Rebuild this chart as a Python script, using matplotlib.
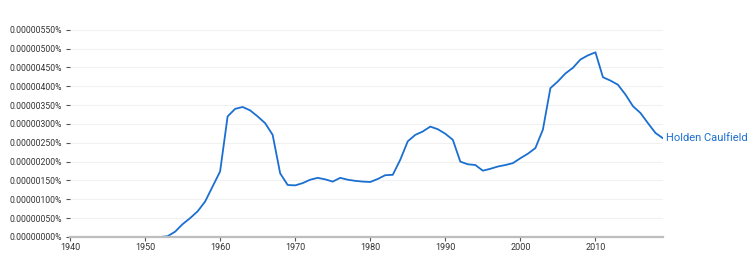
import matplotlib
matplotlib.use("Agg")
import matplotlib.pyplot as plt
from matplotlib.ticker import FuncFormatter

plt.rcParams['font.family'] = ['Roboto', 'DejaVu Sans']

# yearly frequency, in units of 0.00000001 %
years = list(range(1940, 2020))
freq = [0] * 13 + [
    2, 14, 34, 50, 68, 94, 134, 174,          # 1953-1960
    320, 340, 345, 336, 320, 302, 271, 169, 138,  # 1961-1969
    137, 143, 152, 157, 153, 147, 157, 152, 149, 147,  # 1970-1979
    146, 154, 164, 165, 205, 254, 271, 280, 293, 286,  # 1980-1989
    274, 258, 200, 193, 191, 176, 181, 187, 191, 196,  # 1990-1999
    209, 221, 236, 285, 395, 413, 434, 449, 471, 482,  # 2000-2009
    490, 424, 415, 404, 378, 347, 329, 302, 276, 262,  # 2010-2019
]
series_name = "Holden Caulfield"
line_color = "#1a6fd0"

fig = plt.figure(figsize=(7.5, 2.58), dpi=100)
ax = fig.add_axes([0.0933, 0.0814, 0.7907, 0.834])

ax.plot(years, freq, color=line_color, linewidth=1.3, solid_joinstyle='round')
ax.text(years[-1] + 0.4, freq[-1], series_name, color=line_color,
        fontsize=8, va='center', ha='left')

ax.set_xlim(1940, 2019)
ax.set_ylim(0, 571)
ax.set_xticks(range(1940, 2020, 10))
ax.set_yticks(range(0, 551, 50))
ax.yaxis.set_major_formatter(FuncFormatter(lambda v, p: "%.8f%%" % (v * 1e-8)))

for s in ['top', 'right', 'left']:
    ax.spines[s].set_visible(False)
ax.spines['bottom'].set_color('#bdbdbd')
ax.spines['bottom'].set_linewidth(1.6)

ax.grid(axis='y', color='#f1f1f1', linewidth=0.8)
ax.set_axisbelow(True)
ax.tick_params(axis='both', colors='#555555', length=3, width=0.8)
ax.tick_params(axis='y', labelsize=6.2, labelcolor='#333333', pad=2.5)
ax.tick_params(axis='x', labelsize=6.5, labelcolor='#333333', pad=1.5)

fig.savefig("out.png", dpi=100)
